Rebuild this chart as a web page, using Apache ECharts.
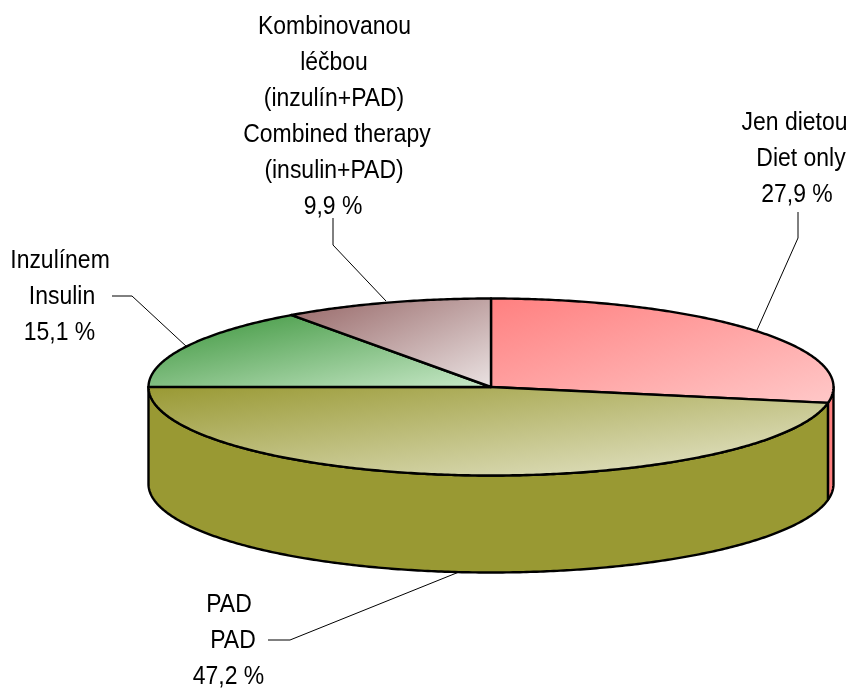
<!DOCTYPE html>
<html><head><meta charset="utf-8">
<style>html,body{margin:0;padding:0;background:#fff}#c{width:856px;height:688px}</style>
<script src="https://cdn.jsdelivr.net/npm/echarts@6/dist/echarts.min.js"></script>
</head><body><div id="c"></div>
<script>
const categories = ['Jen dietou', 'PAD', 'Inzulínem', 'Kombinovanou léčbou'];
const values = [27.9, 47.2, 15.1, 9.9];
const labelLines = [
  ['Jen dietou', 'Diet only', '27,9 %'],
  ['PAD', 'PAD', '47,2 %'],
  ['Inzulínem', 'Insulin', '15,1 %'],
  ['Kombinovanou', 'léčbou', '(inzulín+PAD)', 'Combined therapy', '(insulin+PAD)', '9,9 %']
];
const gradientStart = ['#ff8080', '#999933', '#3a943a', '#966666'];
const gradientEnd = ['#ffc8c8', '#e8e8d0', '#c8e8c8', '#eae2e2'];
const wallColors = ['#ff8080', '#999933', '#339933', '#996666'];
const labelX = [
  [794.5, 801, 797],
  [229, 233, 228.5],
  [60, 62, 59.5],
  [334.5, 334, 334, 337, 334, 333]
];
const labelY = [
  [123, 159, 195],
  [605, 641, 677],
  [261, 297, 333],
  [27, 63, 99, 135, 171, 207]
];
const leaders = [
  [[798, 212], [798, 238], [757, 330]],
  [[268, 640], [290, 640], [459, 572]],
  [[112, 296], [132, 296], [187, 347]],
  [[333, 218], [333, 245], [386, 301]]
];
const pie = { cx: 491, cy: 387, rx: 342.5, ry: 88.5, depth: 97 };
const total = values.reduce((a, b) => a + b, 0);
const pt = (t, dy) => [pie.cx + pie.rx * Math.sin(t), pie.cy - pie.ry * Math.cos(t) + (dy || 0)];
function arc(a, b, dy) {
  const n = Math.max(2, Math.ceil((b - a) / 0.01));
  const out = [];
  for (let i = 0; i <= n; i++) out.push(pt(a + (b - a) * i / n, dy));
  return out;
}
function sliceAngles(idx) {
  let s = 0;
  for (let i = 0; i < idx; i++) s += values[i];
  return [s / total * 2 * Math.PI, (s + values[idx]) / total * 2 * Math.PI];
}
function diagonalGradient(points, from, to) {
  const xs = points.map(p => p[0]), ys = points.map(p => p[1]);
  const x0 = Math.min(...xs), y0 = Math.min(...ys);
  const w = Math.max(...xs) - x0, h = Math.max(...ys) - y0;
  const k = 2 * w * h / (w * w + h * h);
  return new echarts.graphic.LinearGradient(x0, y0, x0 + h * k, y0 + w * k, [
    { offset: 0, color: from },
    { offset: 1, color: to }
  ], true);
}
function renderItem(params, api) {
  const i = params.dataIndex;
  const [a, b] = sliceAngles(i);
  const children = [];
  const frontA = Math.max(a, Math.PI / 2), frontB = Math.min(b, Math.PI * 1.5);
  if (frontB > frontA) {
    children.push({
      type: 'polygon',
      shape: { points: arc(frontA, frontB, 0).concat(arc(frontA, frontB, pie.depth).reverse()) },
      style: { fill: wallColors[i], stroke: '#000', lineWidth: 2.4, lineJoin: 'round' }
    });
  }
  const top = [[pie.cx, pie.cy]].concat(arc(a, b, 0));
  children.push({
    type: 'polygon',
    shape: { points: top },
    style: {
      fill: diagonalGradient(top, gradientStart[i], gradientEnd[i]),
      stroke: '#000', lineWidth: 2.4, lineJoin: 'round'
    }
  });
  children.push({
    type: 'polyline',
    shape: { points: leaders[i] },
    style: { fill: null, stroke: '#000', lineWidth: 1 }
  });
  labelLines[i].forEach((t, k) => {
    children.push({
      type: 'text',
      x: labelX[i][k], y: labelY[i][k], scaleX: 0.9,
      style: {
        text: t, x: 0, y: 0,
        align: 'center', verticalAlign: 'middle',
        font: '25.5px "Liberation Sans", Arial, sans-serif', fill: '#000'
      }
    });
  });
  return { type: 'group', children };
}
const chart = echarts.init(document.getElementById('c'), null, { renderer: 'canvas' });
chart.setOption({
  animation: false,
  backgroundColor: '#fff',
  series: [{
    type: 'custom',
    coordinateSystem: 'none',
    renderItem,
    data: values.map((v, i) => ({ name: categories[i], value: v }))
  }]
});
</script></body></html>
